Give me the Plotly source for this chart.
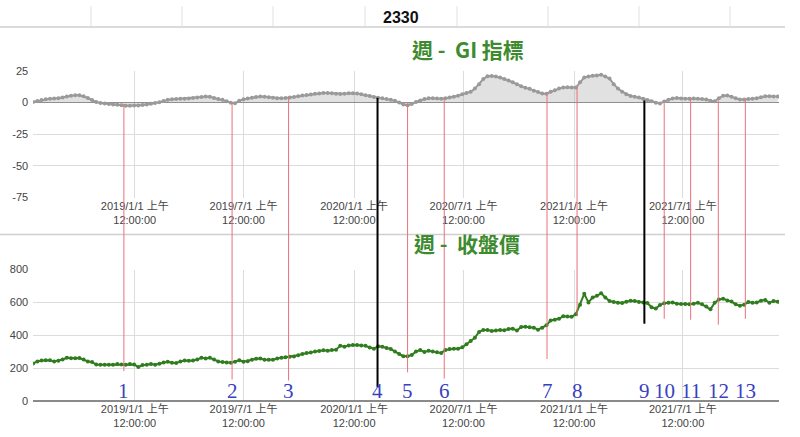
import plotly.graph_objects as go
import pandas as pd

# ---------------- data ----------------
start_date = "2018-07-16"
n_weeks = 178
weeks = pd.date_range(start_date, periods=n_weeks, freq="7D")

gi_values = [
    0.5, 1.2, 2, 2.6, 3, 3.2, 3.4, 4, 4.8, 5.4,
    5.8, 5.8, 5, 3.6, 2, 0.4, -0.4, -0.8, -1.2, -1.5,
    -1.8, -2.2, -2.5, -2.5, -2.4, -2.3, -2, -1.5, -1, -0.4,
    0.2, 1.2, 2.2, 2.6, 2.8, 3, 3, 3.2, 3.6, 3.9,
    4.3, 4.8, 4.6, 3.6, 2.8, 2.2, 1, -0.2, -0.6, 1.5,
    2.6, 3.2, 3.8, 4.4, 4.8, 4.6, 4.2, 3.8, 3.4, 3.3,
    3.6, 4, 4.4, 5, 5.6, 6, 6.4, 6.9, 7.2, 7.5,
    7.5, 7.3, 7, 6.8, 7, 7.3, 7.3, 7.2, 6.6, 5.8,
    5.2, 4.4, 3.8, 3.3, 2.8, 2.3, 1.5, 0, -1.5, -2.2,
    -1.2, 0.4, 1.6, 2.8, 3.4, 3.4, 3.2, 3, 3.4, 4,
    4.5, 5.4, 6.5, 7.6, 8.5, 11, 14.5, 18.5, 20.8, 21,
    20.6, 19.8, 18.6, 17.4, 16, 14.4, 12.8, 11.6, 10.8, 9.4,
    8.4, 7.2, 7, 8.5, 9.8, 11, 11.8, 12, 11.8, 11.8,
    16, 19.8, 20.6, 21.2, 21.4, 22, 20.5, 19, 14.5, 11,
    8.6, 6.6, 5.2, 4.6, 4, 3, 2, 1, -0.2, -0.8,
    0.8, 2.2, 3.2, 3.5, 3.2, 3, 3, 3.2, 3, 2.8,
    2.4, 1.4, 1, 3.4, 5.4, 5.6, 4.6, 3.4, 2.4, 2.5,
    2.8, 3, 3.4, 4.2, 5, 5, 4.8, 4.8,
]

close_values = [
    228, 240, 246, 248, 247, 240, 244, 252, 262, 260,
    260, 261, 252, 240, 236, 222, 220, 220, 220, 220,
    224, 222, 220, 224, 222, 206, 218, 220, 224, 220,
    226, 234, 238, 232, 230, 240, 246, 245, 246, 252,
    262, 258, 262, 252, 240, 236, 234, 232, 238, 248,
    238, 242, 250, 256, 258, 250, 250, 250, 258, 262,
    266, 268, 270, 278, 286, 292, 294, 300, 304, 308,
    306, 310, 312, 335, 330, 338, 340, 340, 338, 335,
    325, 318, 332, 330, 322, 316, 300, 285, 272, 272,
    280, 300, 310, 298, 305, 300, 296, 292, 310, 316,
    318, 318, 326, 345, 365, 385, 420, 432, 432, 426,
    428, 432, 430, 438, 440, 428, 450, 452, 448, 446,
    434, 446, 460, 490, 494, 500, 516, 514, 512, 528,
    586, 652, 600, 630, 640, 655, 630, 608, 602, 598,
    596, 604, 610, 608, 602, 600, 596, 570, 562, 584,
    595, 598, 600, 592, 590, 590, 588, 592, 598, 588,
    575, 558, 598, 618, 622, 612, 605, 588, 580, 586,
    602, 598, 600, 610, 615, 598, 608, 604,
]

tick_dates = ["2019-01-01", "2019-07-01", "2020-01-01", "2020-07-01", "2021-01-01", "2021-07-01"]
tick_texts = ["2019/1/1 上午<br>12:00:00", "2019/7/1 上午<br>12:00:00", "2020/1/1 上午<br>12:00:00",
              "2020/7/1 上午<br>12:00:00", "2021/1/1 上午<br>12:00:00", "2021/7/1 上午<br>12:00:00"]

mark_labels = ["1", "2", "3", "4", "5", "6", "7", "8", "9", "10", "11", "12", "13"]
mark_dates = ["2018-12-14", "2019-06-12", "2019-09-14", "2020-02-09", "2020-03-30", "2020-05-30",
              "2020-11-17", "2021-01-06", "2021-04-28", "2021-05-31", "2021-07-14", "2021-08-29",
              "2021-10-13"]
mark_gi_top = [-1, 0, 4, 3.8, -0.8, 3, 7.6, 12, 1.7, -0.8, 3, 1.7, 2.3]
mark_price_bottom = [181, 130, 124, 83, 174, 136, 255, 516, 470, 500, 494, 464, 500]
mark_black = [False, False, False, True, False, False, False, False, True, False, False, False, False]

gi_ticks = [25, 0, -25, -50, -75]
gi_tick_text = ["25", "0", "-25", "-50", "-75"]
price_ticks = [800, 600, 400, 200, 0]

# ---------------- layout geometry ----------------
W, H = 800, 437
x_dom = [33.15 / W, 779 / W]
top_dom = [1 - 197 / H, 1 - 66.7 / H]
bot_dom = [1 - 406 / H, 1 - 271 / H]
gi_range = [-75, 25]
price_range = [0, 800]
x_range = ["2018-07-16", "2021-12-08"]


def y_top(v):
    return top_dom[0] + (v - gi_range[0]) / (gi_range[1] - gi_range[0]) * (top_dom[1] - top_dom[0])


def y_bot(v):
    return bot_dom[0] + (v - price_range[0]) / (price_range[1] - price_range[0]) * (bot_dom[1] - bot_dom[0])


font_family = "Arial, Liberation Sans, Noto Sans CJK TC, sans-serif"
tick_font = dict(family=font_family, size=11, color="#444444")
grid_c = "#dcdcdc"

fig = go.Figure()

fig.add_trace(go.Scatter(
    x=weeks, y=gi_values, mode="lines+markers", xaxis="x", yaxis="y",
    line=dict(color="#9a9a9a", width=2), marker=dict(color="#9a9a9a", size=4),
    fill="tozeroy", fillcolor="rgba(170,170,170,0.35)", showlegend=False,
))
fig.add_trace(go.Scatter(
    x=weeks, y=close_values, mode="lines+markers", xaxis="x2", yaxis="y2",
    line=dict(color="#2f7d1f", width=2), marker=dict(color="#2f7d1f", size=4),
    showlegend=False,
))

xaxis_common = dict(
    domain=x_dom, range=x_range, type="date", tickvals=tick_dates, ticktext=tick_texts,
    showgrid=True, gridcolor=grid_c, gridwidth=1, zeroline=False, showline=False,
    tickfont=tick_font, ticks="", fixedrange=True,
)

fig.update_layout(
    width=W, height=H, autosize=False,
    margin=dict(l=0, r=0, t=0, b=0),
    paper_bgcolor="white", plot_bgcolor="white",
    xaxis=dict(anchor="y", **xaxis_common),
    xaxis2=dict(anchor="y2", matches="x", **xaxis_common),
    yaxis=dict(domain=top_dom, range=gi_range, tickvals=gi_ticks, ticktext=gi_tick_text,
               showgrid=True, gridcolor=grid_c,
               zeroline=True, zerolinecolor="#8a8a8a", zerolinewidth=1.5, tickfont=tick_font,
               ticks="", ticklabelstandoff=4, fixedrange=True),
    yaxis2=dict(domain=bot_dom, range=price_range, tickvals=price_ticks, showgrid=True, gridcolor=grid_c,
                zeroline=True, zerolinecolor="#8a8a8a", zerolinewidth=1.5, tickfont=tick_font,
                ticks="", ticklabelstandoff=4, fixedrange=True),
)

shapes = []
# decorative frame lines (cropped previous chart strip & separators)
strip_x = [91, 182, 273, 365, 457, 548, 639, 730]
for sx in strip_x:
    shapes.append(dict(type="line", xref="paper", yref="paper", x0=sx / W, x1=sx / W,
                       y0=1 - 21 / H, y1=1, line=dict(color="#e0e0e0", width=1)))
shapes.append(dict(type="line", xref="paper", yref="paper", x0=0, x1=785 / W,
                   y0=1 - 21.5 / H, y1=1 - 21.5 / H, line=dict(color="#cfcfcf", width=1.5)))
shapes.append(dict(type="line", xref="paper", yref="paper", x0=0, x1=785 / W,
                   y0=1 - 235 / H, y1=1 - 235 / H, line=dict(color="#cfcfcf", width=1.5)))

for d, top, bot, blk in zip(mark_dates, mark_gi_top, mark_price_bottom, mark_black):
    shapes.append(dict(
        type="line", xref="x", yref="paper", x0=d, x1=d, y0=y_bot(bot), y1=y_top(top),
        line=dict(color="#000000" if blk else "#e8707a", width=2 if blk else 1), layer="above",
    ))
fig.update_layout(shapes=shapes)

annotations = [
    dict(text="<b>2330</b>", xref="paper", yref="paper", x=401 / W, y=1 - 12 / H, showarrow=False,
         font=dict(family=font_family, size=16, color="#111111"), xanchor="center", yanchor="middle"),
    dict(text="<b>週 -  GI 指標</b>", xref="paper", yref="paper", x=468 / W, y=1 - 44 / H, showarrow=False,
         font=dict(family="Noto Sans CJK TC, Arial, sans-serif", size=21, color="#3d8b2e"),
         xanchor="center", yanchor="middle"),
    dict(text="<b>週 -  收盤價</b>", xref="paper", yref="paper", x=467 / W, y=1 - 244 / H, showarrow=False,
         font=dict(family="Noto Sans CJK TC, Arial, sans-serif", size=21, color="#3d8b2e"),
         xanchor="center", yanchor="middle"),
]
for lab, d in zip(mark_labels, mark_dates):
    annotations.append(dict(
        text=lab, xref="x2", yref="y2", x=d, y=60, showarrow=False,
        font=dict(family="Liberation Serif, DejaVu Serif, serif", size=21, color="#3a3fc0"),
        xanchor="center", yanchor="middle",
    ))
fig.update_layout(annotations=annotations)

fig.write_html(
    "out.html",
    config={"displayModeBar": False, "staticPlot": True},
    post_script="document.body.style.margin='0';document.body.style.padding='0';document.body.style.overflow='hidden';",
)
